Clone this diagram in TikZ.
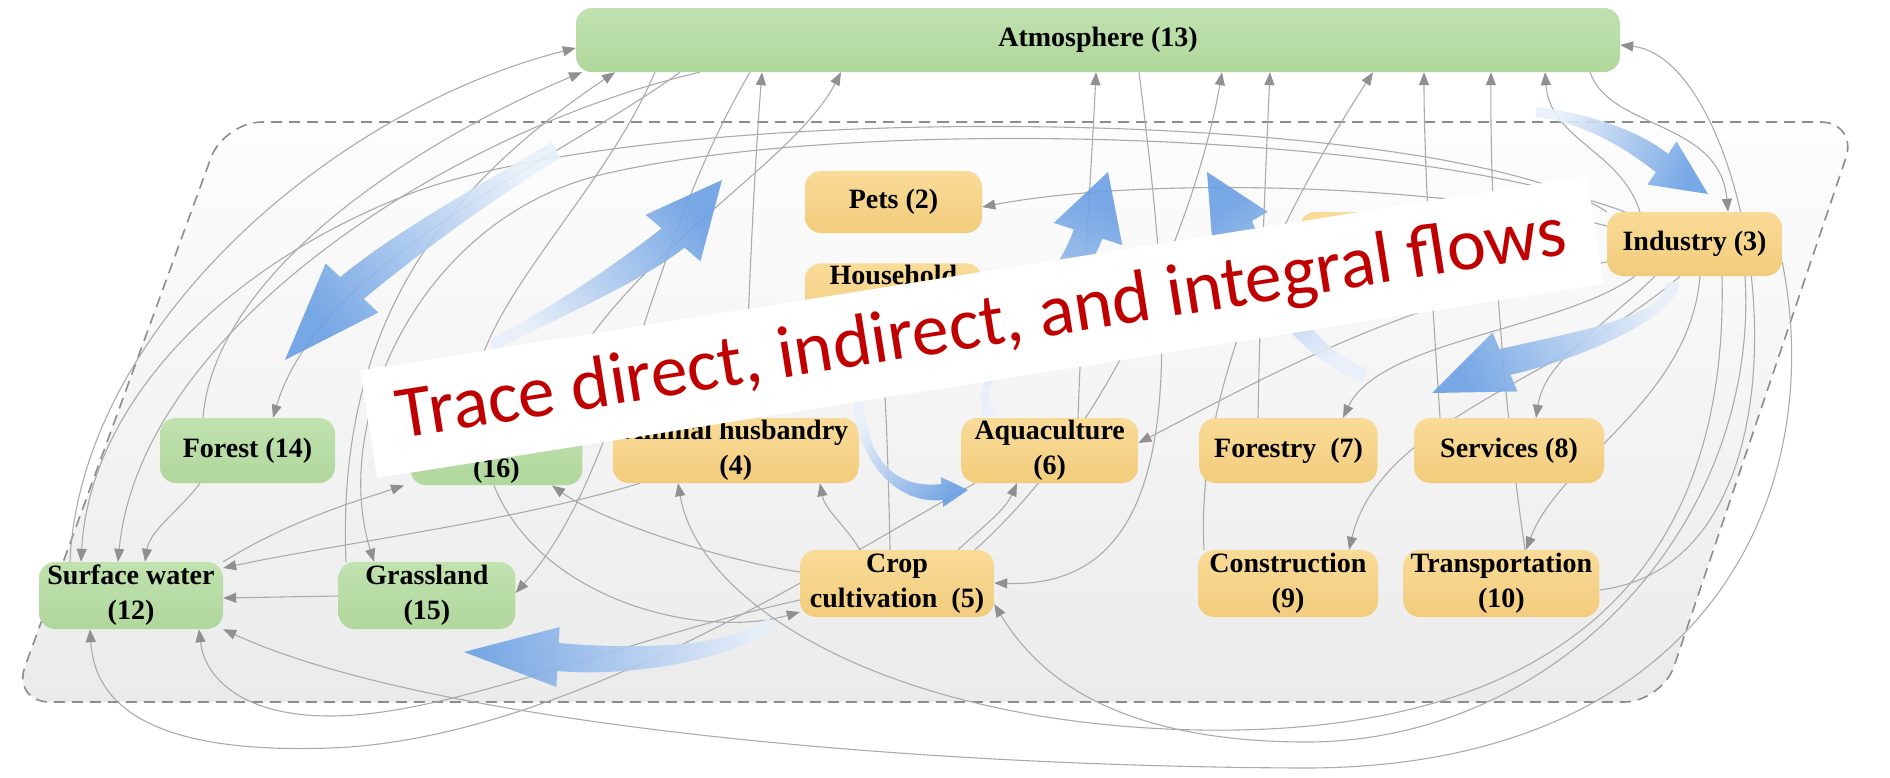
\documentclass[tikz,border=0pt]{standalone}
\usepackage{fontspec}
\setmainfont{Liberation Serif}
\newfontfamily\bannerfont{Carlito}
\usetikzlibrary{positioning,arrows.meta,calc}

\definecolor{linkgray}{HTML}{ABABAB}
\definecolor{tipgray}{HTML}{909090}
\definecolor{orangetop}{HTML}{F9DB98}
\definecolor{orangebot}{HTML}{F2CC7C}
\definecolor{greentop}{HTML}{C0E2AF}
\definecolor{greenbot}{HTML}{B0D79C}
\definecolor{flowdark}{HTML}{6A9FE3}
\definecolor{flowlight}{HTML}{E8F0FA}
\definecolor{bannerred}{HTML}{C00000}
\definecolor{dashgray}{HTML}{8C8C8C}
\definecolor{regiontop}{HTML}{FDFDFD}
\definecolor{regionbot}{HTML}{EBEBEB}

\pgfdeclarelayer{bg}
\pgfdeclarelayer{lines}
\pgfsetlayers{bg,lines,main}

\newcommand{\flowarrow}[9]{%
  \coordinate (fT) at (#1); \coordinate (fA) at (#2); \coordinate (fB) at (#3);
  \coordinate (fN) at (#4); \coordinate (fP) at (#5);
  \coordinate (fTL) at ($(fT)!#6!90:(fA)$); \coordinate (fTR) at ($(fT)!#6!-90:(fA)$);
  \coordinate (fNL) at ($(fN)!#7!90:(fP)$); \coordinate (fNR) at ($(fN)!#7!-90:(fP)$);
  \coordinate (fHL) at ($(fN)!#8!90:(fP)$); \coordinate (fHR) at ($(fN)!#8!-90:(fP)$);
  \shade[flow, shading angle=#9] (fTL) .. controls ($(fA)+(fTL)-(fT)$) and ($(fB)+(fNL)-(fN)$) .. (fNL)
    -- (fHL) -- (fP) -- (fHR) -- (fNR) .. controls ($(fB)+(fNR)-(fN)$) and ($(fA)+(fTR)-(fT)$) .. (fTR) -- cycle;
}

\begin{document}
\begin{tikzpicture}[x=1pt,y=-1pt,node distance=30pt,
  sector/.style={rounded corners=16pt,top color=orangetop,bottom color=orangebot,minimum height=66pt,align=center,inner sep=2pt,font={\fontsize{28}{35}\selectfont\bfseries}},
  nature/.style={sector,top color=greentop,bottom color=greenbot},
  link/.style={draw=linkgray,line width=1.1pt,-{Triangle[length=13pt,width=10pt,color=tipgray]}},
  flow/.style={top color=flowdark,bottom color=flowlight,opacity=0.9},
  banner/.style={fill=white,minimum width=1242pt,minimum height=109pt,text=bannerred,font={\bannerfont\fontsize{74}{80}\selectfont}}]
  \useasboundingbox (0,0) rectangle (1890,777);

  \node[nature, minimum width=1044pt, minimum height=64pt] (atm) at (1098,40) {Atmosphere (13)};
  \node[sector, minimum width=177pt, minimum height=62pt] (pets) at (893.5,202) {Pets (2)};
  \node[sector, minimum width=177pt, minimum height=67pt, below=30pt of pets] (house) {Household\\\strut};
  \node[sector, minimum width=175pt, minimum height=64pt] (ind) at (1694.5,244) {Industry (3)};
  \node[sector, minimum width=178pt, minimum height=64pt, left=129pt of ind] (misc) {};
  \node[nature, minimum width=175pt, minimum height=65pt] (forest) at (247.5,450.5) {Forest (14)};
  \node[nature, minimum width=172pt, minimum height=65pt, right=75pt of forest] (n16) {\strut\\(16)};
  \node[sector, minimum width=246pt, minimum height=65pt, right=30pt of n16] (anim) {Animal husbandry\\(4)};
  \node[sector, minimum width=177pt, minimum height=65pt, right=102pt of anim] (aqua) {Aquaculture\\(6)};
  \node[sector, minimum width=178pt, minimum height=65pt, right=61pt of aqua] (forestry) {Forestry\ \ (7)};
  \node[sector, minimum width=190pt, minimum height=65pt, right=36pt of forestry] (serv) {Services (8)};
  \node[nature, minimum width=184pt, minimum height=67pt] (surf) at (131,595.5) {Surface water\\(12)};
  \node[nature, minimum width=177pt, minimum height=67pt, right=115pt of surf] (grass) {Grassland\\(15)};
  \node[sector, minimum width=194pt, minimum height=67pt] (crop) at (897,583.5) {Crop\\cultivation\ \ (5)};
  \node[sector, minimum width=180pt, minimum height=67pt] (constr) at (1288,583.5) {Construction\\(9)};
  \node[sector, minimum width=196pt, minimum height=67pt, right=25pt of constr] (transp) {Transportation\\(10)};

  \begin{pgfonlayer}{bg}
    \shade[top color=regiontop,bottom color=regionbot,rounded corners=38pt]
      (900,122) -- (1858,122) -- (1662,702) -- (12,702) -- (224,122) -- cycle;
    \draw[dashgray,line width=1.6pt,dash pattern=on 11pt off 7pt,rounded corners=38pt]
      (900,122) -- (1858,122) -- (1662,702) -- (12,702) -- (224,122) -- cycle;
  \end{pgfonlayer}

  \begin{pgfonlayer}{lines}
    \draw[link] (surf.north -| 70,0) .. controls (80,330) and (330,110) .. (atm.west |- 0,48);
    \draw[link] (forest.north -| 203,0) .. controls (215,270) and (420,140) .. (atm.south -| 582,0);
    \draw[link] (grass.north -| 346,0) .. controls (335,300) and (470,170) .. (atm.south -| 615,0);
    \draw[link] (anim.north -| 745,0) .. controls (748,300) and (755,160) .. (atm.south -| 762,0);
    \draw[link] (n16.north -| 545,0) .. controls (610,260) and (790,170) .. (atm.south -| 841,0);
    \draw[link] (aqua.north -| 1078,0) .. controls (1082,300) and (1092,160) .. (atm.south -| 1096,0);
    \draw[link] (crop.north -| 975,0) .. controls (1120,420) and (1200,200) .. (atm.south -| 1222,0);
    \draw[link] (forestry.north -| 1258,0) .. controls (1260,300) and (1266,160) .. (atm.south -| 1270,0);
    \draw[link] (constr.north -| 1204,0) .. controls (1195,380) and (1290,200) .. (atm.south -| 1373,0);
    \draw[link] (serv.north -| 1440,0) .. controls (1432,300) and (1424,160) .. (atm.south -| 1424,0);
    \draw[link] (transp.north -| 1525,0) .. controls (1500,380) and (1490,200) .. (atm.south -| 1491,0);
    \draw[link] (ind.north -| 1640,0) .. controls (1620,150) and (1550,140) .. (atm.south -| 1545,0);
    \draw[link] (transp.east |- 0,590) .. controls (1840,560) and (1760,60) .. (atm.east |- 0,45);
    \draw[link] (atm.south -| 680,0) .. controls (560,160) and (320,260) .. (forest.north -| 273,0);
    \draw[link] (atm.south -| 700,0) .. controls (450,130) and (140,330) .. (surf.north -| 118,0);
    \draw[link] (atm.south -| 655,0) .. controls (600,200) and (480,300) .. (n16.north -| 470,0);
    \draw[link] (atm.south -| 750,0) .. controls (640,260) and (625,470) .. (grass.east |- 0,593);
    \draw[link] (atm.south -| 1139,0) .. controls (1170,320) and (1200,590) .. (crop.east |- 0,583);
    \draw[link] (atm.south -| 1590,0) .. controls (1610,130) and (1720,120) .. (ind.north -| 1728,0);
    \draw[link] (ind.west |- 0,226) .. controls (1450,185) and (1150,175) .. (pets.east |- 0,207);
    \draw[link] (ind.west |- 0,262) .. controls (1400,300) and (1260,380) .. (aqua.east |- 0,443);
    \draw[link] (ind.south -| 1635,0) .. controls (1560,330) and (1380,340) .. (forestry.north -| 1343,0);
    \draw[link] (ind.south -| 1655,0) .. controls (1600,330) and (1545,360) .. (serv.north -| 1536,0);
    \draw[link] (ind.south -| 1680,0) .. controls (1560,380) and (1380,420) .. (constr.north -| 1349,0);
    \draw[link] (ind.south -| 1700,0) .. controls (1690,400) and (1560,460) .. (transp.north -| 1526,0);
    \draw[link] (ind.east |- 0,262) .. controls (1830,500) and (1700,770) .. (1300,768) .. controls (880,766) and (420,720) .. (surf.south east);
    \draw[link] (ind.south -| 1745,0) .. controls (1760,520) and (1560,745) .. (1300,742) .. controls (1120,740) and (1040,680) .. (crop.east |- 0,604);
    \draw[link] (ind.south -| 1722,0) .. controls (1730,620) and (1500,735) .. (1200,730) .. controls (900,725) and (700,610) .. (anim.south -| 678,0);
    \draw[link] (ind.north west) .. controls (1450,110) and (700,95) .. (420,190) .. controls (230,260) and (90,400) .. (surf.north -| 81,0);
    \draw[link] (ind.north -| 1625,0) .. controls (1400,130) and (850,115) .. (600,175) .. controls (420,220) and (330,420) .. (grass.north -| 374,0);
    \draw[link] (forest.south -| 200,0) .. controls (180,510) and (150,530) .. (surf.north -| 145,0);
    \draw[link] (grass.west |- 0,596) -- (surf.east |- 0,598);
    \draw[link] (surf.north east) .. controls (290,520) and (360,500) .. (n16.south -| 404,0);
    \draw[link] (anim.south -| 640,0) .. controls (520,520) and (330,545) .. (surf.east |- 0,568);
    \draw[link] (aqua.south -| 975,0) .. controls (820,570) and (560,740) .. (330,748) .. controls (160,754) and (95,710) .. (surf.south -| 90,0);
    \draw[link] (crop.west |- 0,600) .. controls (620,640) and (450,716) .. (330,716) .. controls (245,716) and (205,680) .. (surf.south -| 199,0);
    \draw[link] (n16.south -| 494,0) .. controls (540,600) and (700,640) .. (crop.west |- 0,612);
    \draw[link] (crop.west |- 0,572) .. controls (720,560) and (600,520) .. (n16.south -| 552,0);
    \draw[link] (crop.north -| 860,0) .. controls (845,525) and (825,510) .. (anim.south -| 820,0);
    \draw[link] (crop.north -| 958,0) .. controls (985,525) and (1005,510) .. (aqua.south -| 1017,0);
    \draw[link] (crop.north -| 890,0) .. controls (888,450) and (885,380) .. (house.south -| 880,0);

    \flowarrow{556,150}{490,190}{410,240}{352,288}{285,360}{9pt}{16pt}{36pt}{127.8}
    \flowarrow{492,345}{560,310}{630,272}{673,238}{722,180}{6pt}{15pt}{36pt}{-54.4}
    \flowarrow{992,415}{955,385}{1068,295}{1088,234}{1108,172}{6pt}{15pt}{36pt}{-25.5}
    \flowarrow{1365,375}{1320,362}{1268,300}{1240,228}{1207,172}{7pt}{14pt}{32pt}{37.9}
    \flowarrow{1536,112}{1585,118}{1630,138}{1662,163}{1708,194}{5pt}{11pt}{26pt}{-114.7}
    \flowarrow{1672,282}{1675,315}{1580,345}{1505,362}{1432,393}{7pt}{14pt}{32pt}{114.8}
    \flowarrow{858,400}{862,460}{895,497}{942,492}{968,490}{5pt}{8pt}{15pt}{-130.4}
    \flowarrow{772,622}{735,652}{640,664}{558,657}{464,652}{6pt}{14pt}{30pt}{95.6}
  \end{pgfonlayer}

  \node[banner, rotate=9] (note) at (982,327) {Trace direct, indirect, and integral flows};
\end{tikzpicture}
\end{document}
